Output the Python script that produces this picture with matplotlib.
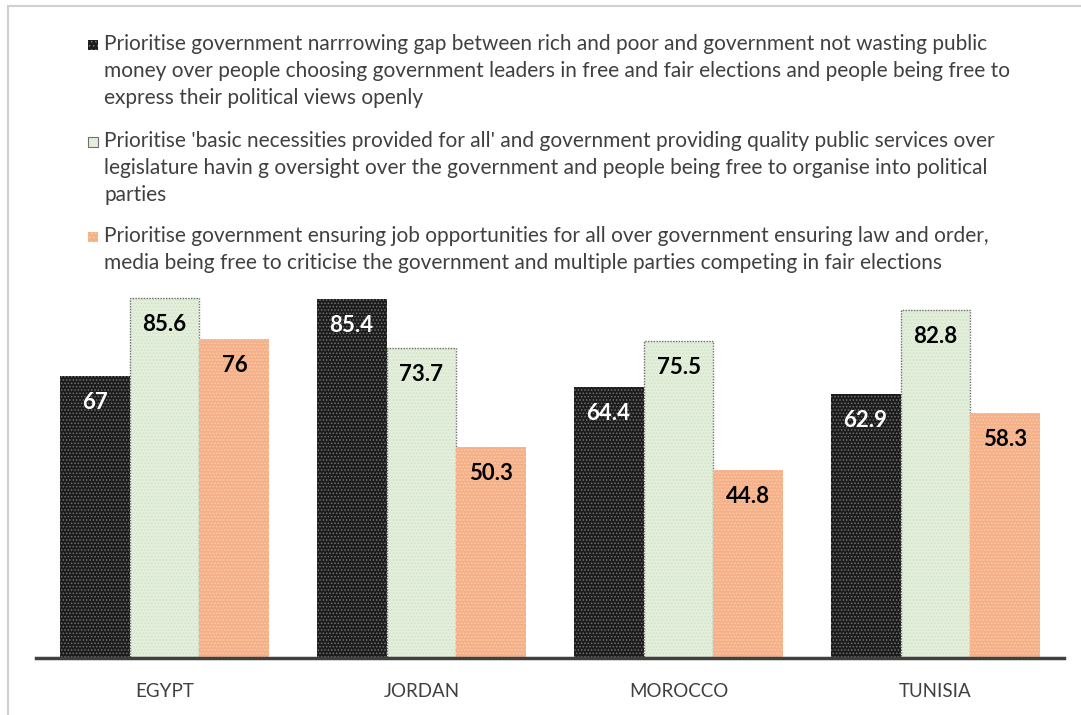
import matplotlib.pyplot as plt
from matplotlib.patches import Rectangle
import numpy as np

plt.rcParams['font.family'] = ['Lato', 'DejaVu Sans']
plt.rcParams['hatch.linewidth'] = 0.7

countries = ['EGYPT', 'JORDAN', 'MOROCCO', 'TUNISIA']
gap_money = [67, 85.4, 64.4, 62.9]
necessities = [85.6, 73.7, 75.5, 82.8]
jobs = [76, 50.3, 44.8, 58.3]
value_labels = [['67', '85.4', '64.4', '62.9'],
                ['85.6', '73.7', '75.5', '82.8'],
                ['76', '50.3', '44.8', '58.3']]

legend_texts = [
    "Prioritise government narrrowing gap between rich and poor and government not wasting public\n"
    "money over people choosing government leaders in free and fair elections and people being free to\n"
    "express their political views openly",
    "Prioritise 'basic necessities provided for all' and government providing quality public services over\n"
    "legislature havin g oversight over the government and people being free to organise into political\n"
    "parties",
    "Prioritise government ensuring job opportunities for all over government ensuring law and order,\n"
    "media being free to criticise the government and multiple parties competing in fair elections",
]

colors = ['#1c1c1c', '#e3efda', '#f5b088']
hatch_cols = ['#707070', '#d2e2c8', '#f9cdb0']
txt_cols = ['white', 'black', 'black']

fig = plt.figure(figsize=(10.81, 7.15), dpi=100)
ax = fig.add_axes([36/1081, 57/715, (1064-36)/1081, 0.529])

x = np.arange(len(countries))
w = 0.272
series = [gap_money, necessities, jobs]
for i, vals in enumerate(series):
    pos = x + (i - 1) * w
    ax.bar(pos, vals, w, color=colors[i], edgecolor=hatch_cols[i],
           hatch='.....', linewidth=0)
    if i == 1:
        # dotted outline on the green bars
        ax.bar(pos, vals, w, color='none', edgecolor='#707070',
               linewidth=1.0, linestyle=(0, (1, 1)))
    for p, v, s in zip(pos, vals, value_labels[i]):
        ax.text(p, v - 6.3, s, ha='center', va='center', fontsize=16,
                fontweight='bold', color=txt_cols[i])

ax.set_xlim(-0.5, 3.5)
ax.set_ylim(0, 90)
ax.set_yticks([])
ax.set_xticks(x)
ax.set_xticklabels(countries, fontsize=13.5, color='#404040')
ax.tick_params(axis='x', length=0, pad=18)
for s in ['top', 'right', 'left']:
    ax.spines[s].set_visible(False)
ax.spines['bottom'].set_color('#404040')
ax.spines['bottom'].set_linewidth(2.5)

# legend drawn by hand
leg_y = [45, 142, 237]
for i, (t, yy) in enumerate(zip(legend_texts, leg_y)):
    fy = 1 - yy / 715
    fig.text(104/1081, fy + 11/715, t, ha='left', va='top', fontsize=15,
             color='#404040', linespacing=1.45, transform=fig.transFigure)
    fig.patches.append(Rectangle((88/1081, fy - 5/715), 10/1081, 10/715,
                                 transform=fig.transFigure, facecolor=colors[i],
                                 edgecolor='#707070' if i == 1 else hatch_cols[i],
                                 hatch='....' if i != 1 else None, linewidth=0.8 if i == 1 else 0))

# outer chart frame
fig.patches.append(Rectangle((8/1081, -0.1), 1.2, 1 - 6/715 + 0.1,
                             transform=fig.transFigure, fill=False,
                             edgecolor='#d0d0d0', linewidth=1.5))

fig.savefig('out.png', dpi=100)
